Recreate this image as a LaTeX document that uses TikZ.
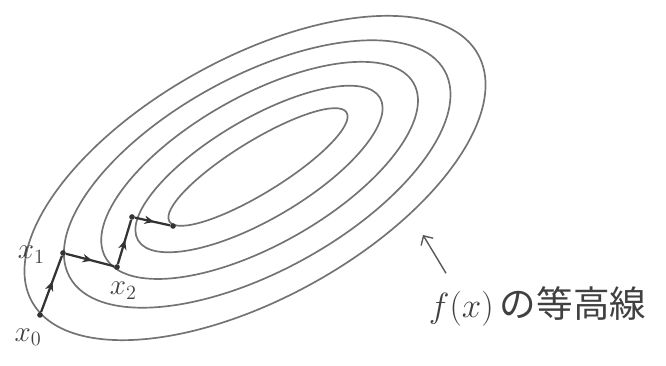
\documentclass[tikz,border=0pt]{standalone}
\usepackage{fontspec}
\newfontfamily\jpfont{Noto Sans CJK JP}
\usetikzlibrary{arrows.meta, decorations.markings}

\begin{document}
\begin{tikzpicture}[
	contour/.style={draw=black!55, line width=1.2pt},
	descent/.style={draw=black!80, line width=1.6pt, postaction={decorate},
		decoration={markings, mark=at position 0.55 with {\arrow{Stealth[length=7pt, width=6pt]}}}},
	pt/.style={circle, fill=black!80, inner sep=0pt, minimum size=4pt},
	lbl/.style={text=black!75, font=\huge}]
	\useasboundingbox (0, 0) rectangle (16.65, 9.15);
	% Contours of f:
	\foreach \cx/\cy/\ra/\rb/\ang in {6.45/4.975/2.6/0.65/31.6, 6.475/4.925/3.51/1.25/30.5, 6.49/4.89/4.425/1.86/29.5, 6.43/4.8/5.35/2.43/28.8, 6.375/4.7/6.375/3.0/29}
		\draw[contour, rotate around={\ang:(\cx, \cy)}] (\cx, \cy) ellipse ({\ra} and {\rb});
	% Iterates:
	\node[pt] (x0) at (1.0, 1.275) {};
	\node[pt] (x1) at (1.575, 2.825) {};
	\node[pt] (x2) at (2.925, 2.475) {};
	\node[pt] (x3) at (3.3, 3.725) {};
	\node[pt] (x4) at (4.325, 3.5) {};
	\draw[descent] (x0) -- (x1);
	\draw[descent] (x1) -- (x2);
	\draw[descent] (x2) -- (x3);
	\draw[descent] (x3) -- (x4);
	\node[lbl] (l0) at (0.7, 0.72) {$x_0$};
	\node[lbl] (l1) at (0.78, 2.78) {$x_1$};
	\node[lbl] (l2) at (3.08, 1.88) {$x_2$};
	% Caption and pointer:
	\node[lbl, anchor=west, font=\fontsize{26}{30}\selectfont] (cap) at (10.6, 1.5) {$f(x)$\,{\jpfont の等高線}};
	\coordinate (tip) at (10.575, 3.275);
	\draw[black!65, line width=1pt, -{Straight Barb[length=5pt]}] ([xshift=0.55cm, yshift=0.2cm]cap.north west) -- (tip);
\end{tikzpicture}
\end{document}
